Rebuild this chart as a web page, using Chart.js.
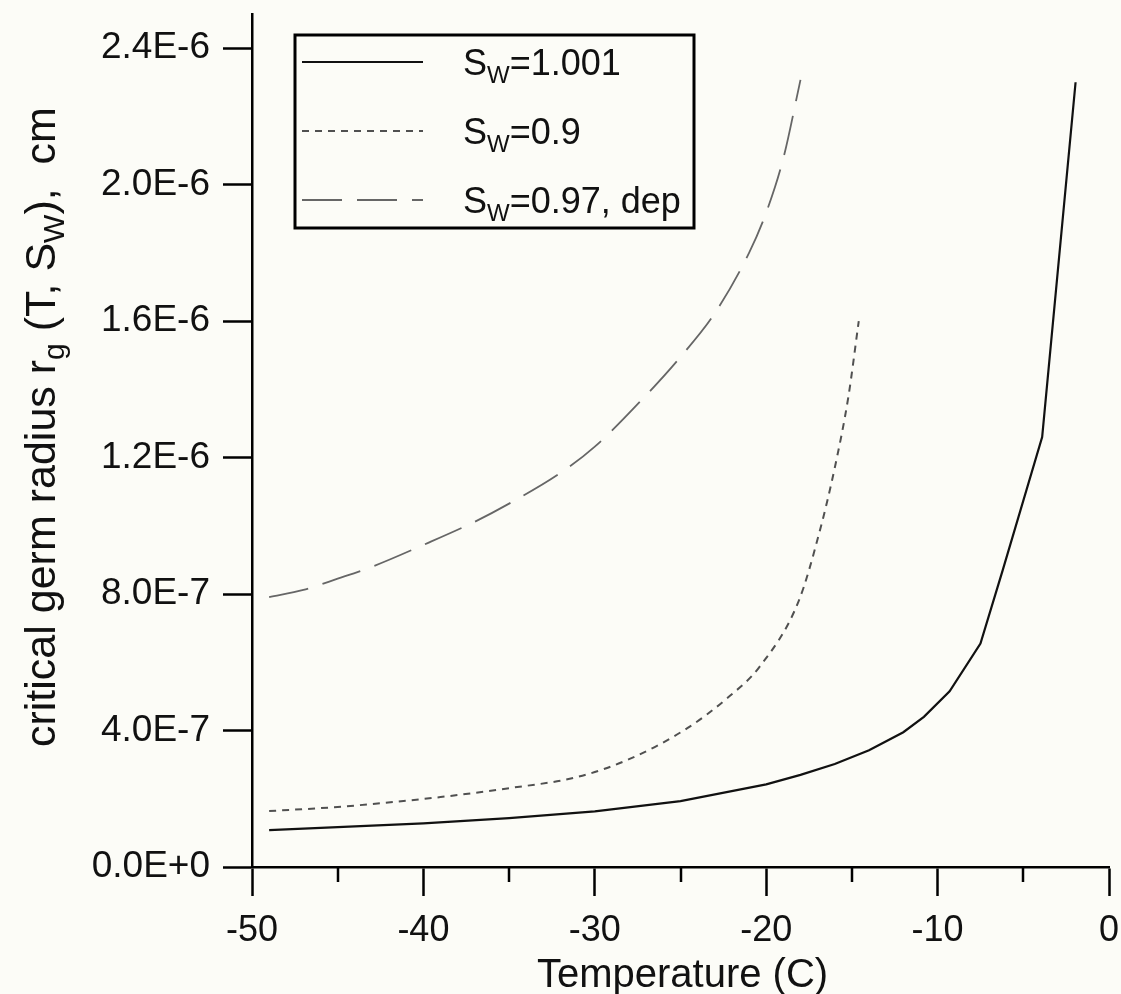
<!DOCTYPE html>
<html>
<head>
<meta charset="utf-8">
<script src="https://cdn.jsdelivr.net/npm/chart.js@4.4.0/dist/chart.umd.min.js"></script>
<style>
  html, body { margin: 0; padding: 0; background: #fcfcf7; }
  #wrap { width: 1121px; height: 994px; }
</style>
</head>
<body>
<div id="wrap"><canvas id="c" width="1121" height="994"></canvas></div>
<script>
// Critical germ radius vs temperature for three saturation ratios
const tempSw1001   = [-49, -45, -40, -35, -30, -25, -20, -18, -16, -14, -12, -10.8, -9.3, -7.5, -6.2, -3.9, -1.95];
const radiusSw1001 = [1.08e-7, 1.17e-7, 1.28e-7, 1.43e-7, 1.63e-7, 1.93e-7, 2.42e-7, 2.7e-7, 3.02e-7, 3.42e-7, 3.95e-7, 4.4e-7, 5.15e-7, 6.55e-7, 8.7e-7, 1.26e-6, 2.3e-6];

const tempSw09   = [-49, -45, -39, -35, -31, -28, -24.6, -22.2, -20.4, -18.1, -16.9, -16, -15.2, -14.6];
const radiusSw09 = [1.64e-7, 1.76e-7, 2.05e-7, 2.31e-7, 2.64e-7, 3.16e-7, 4.07e-7, 4.98e-7, 5.86e-7, 7.8e-7, 9.8e-7, 1.17e-6, 1.38e-6, 1.6e-6];

const tempSw097dep   = [-49, -47, -45, -43, -40, -37, -35, -32, -30, -27, -25, -23, -21, -20, -19, -18];
const radiusSw097dep = [7.91e-7, 8.12e-7, 8.45e-7, 8.8e-7, 9.44e-7, 1.012e-6, 1.065e-6, 1.155e-6, 1.232e-6, 1.383e-6, 1.495e-6, 1.623e-6, 1.8e-6, 1.918e-6, 2.077e-6, 2.307e-6];

// legend text parts: main letter, subscript, remainder
const legendMain = ['S', 'S', 'S'];
const legendSub  = ['W', 'W', 'W'];
const legendRest = ['=1.001', '=0.9', '=0.97, dep'];

const xTickValues  = [-50, -40, -30, -20, -10, 0];
const xTickLabels  = ['-50', '-40', '-30', '-20', '-10', '0'];
const xMinorValues = [-45, -35, -25, -15, -5];
const yTickValues  = [0, 4e-7, 8e-7, 1.2e-6, 1.6e-6, 2.0e-6, 2.4e-6];
const yTickLabels  = ['0.0E+0', '4.0E-7', '8.0E-7', '1.2E-6', '1.6E-6', '2.0E-6', '2.4E-6'];

const xTitle = 'Temperature (C)';
const yTitleParts = [
  { t: 'critical germ radius r' }, { t: 'g', sub: true },
  { t: ' (T, S' }, { t: 'W', sub: true }, { t: '),  cm' }
];

const FONT = '"Liberation Sans", Arial, Helvetica, sans-serif';
const BG = '#fcfcf7';

const pairs = (xs, ys) => xs.map((x, i) => ({ x: x, y: ys[i] }));

const bgPlugin = {
  id: 'bg',
  beforeDraw(chart) {
    const ctx = chart.ctx;
    ctx.save();
    ctx.fillStyle = BG;
    ctx.fillRect(0, 0, chart.width, chart.height);
    ctx.restore();
  }
};

// short minor ticks on the temperature axis
const minorTicks = {
  id: 'minorTicks',
  afterDraw(chart) {
    const xs = chart.scales.x, ctx = chart.ctx;
    ctx.save();
    ctx.strokeStyle = '#000';
    ctx.lineWidth = 2.5;
    xMinorValues.forEach(v => {
      const px = Math.round(xs.getPixelForValue(v));
      ctx.beginPath();
      ctx.moveTo(px, xs.top);
      ctx.lineTo(px, xs.top + 15);
      ctx.stroke();
    });
    ctx.restore();
  }
};

// axis titles (with subscripts)
const titles = {
  id: 'titles',
  afterDraw(chart) {
    const ctx = chart.ctx, xs = chart.scales.x;
    ctx.save();
    ctx.fillStyle = '#111';
    ctx.textBaseline = 'alphabetic';
    ctx.font = '40px ' + FONT;
    ctx.textAlign = 'center';
    ctx.fillText(xTitle, (xs.left + xs.right) / 2 + 2, 987);

    const size = 43, subSize = 30, subShift = 9;
    ctx.textAlign = 'left';
    ctx.translate(55, 747);
    ctx.rotate(-Math.PI / 2);
    let cx = 0;
    yTitleParts.forEach(p => {
      ctx.font = (p.sub ? subSize : size) + 'px ' + FONT;
      ctx.fillText(p.t, cx, p.sub ? subShift : 0);
      cx += ctx.measureText(p.t).width;
    });
    ctx.restore();
  }
};

// boxed legend with line samples and subscripted labels
const boxLegend = {
  id: 'boxLegend',
  afterDraw(chart) {
    const ctx = chart.ctx;
    const box = { l: 295, t: 35, r: 694, b: 228 };
    ctx.save();
    ctx.fillStyle = BG;
    ctx.fillRect(box.l, box.t, box.r - box.l, box.b - box.t);
    ctx.strokeStyle = '#000';
    ctx.lineWidth = 3;
    ctx.strokeRect(box.l, box.t, box.r - box.l, box.b - box.t);
    const rowY = [62, 131, 200];
    chart.data.datasets.forEach((ds, i) => {
      const y = rowY[i];
      ctx.save();
      ctx.strokeStyle = ds.borderColor;
      ctx.lineWidth = ds.borderWidth;
      ctx.setLineDash(ds.borderDash || []);
      ctx.beginPath();
      ctx.moveTo(302, y);
      ctx.lineTo(423, y);
      ctx.stroke();
      ctx.restore();

      ctx.fillStyle = '#111';
      ctx.textBaseline = 'alphabetic';
      ctx.textAlign = 'left';
      let x = 463;
      const base = y + 13;
      ctx.font = '36px ' + FONT;
      ctx.fillText(legendMain[i], x, base);
      x += ctx.measureText(legendMain[i]).width;
      ctx.font = '24px ' + FONT;
      ctx.fillText(legendSub[i], x, base + 8);
      x += ctx.measureText(legendSub[i]).width;
      ctx.font = '36px ' + FONT;
      ctx.fillText(legendRest[i], x, base);
    });
    ctx.restore();
  }
};

new Chart(document.getElementById('c'), {
  type: 'line',
  data: {
    datasets: [
      {
        label: 'S_W=1.001',
        data: pairs(tempSw1001, radiusSw1001),
        borderColor: '#111', borderWidth: 2.2, borderDash: [],
        pointRadius: 0, tension: 0, fill: false
      },
      {
        label: 'S_W=0.9',
        data: pairs(tempSw09, radiusSw09),
        borderColor: '#505050', borderWidth: 2, borderDash: [7, 6],
        pointRadius: 0, cubicInterpolationMode: 'monotone', fill: false
      },
      {
        label: 'S_W=0.97, dep',
        data: pairs(tempSw097dep, radiusSw097dep),
        borderColor: '#666', borderWidth: 1.8, borderDash: [40, 15],
        pointRadius: 0, cubicInterpolationMode: 'monotone', fill: false
      }
    ]
  },
  options: {
    responsive: false,
    animation: false,
    devicePixelRatio: 1,
    layout: { padding: { left: 0, right: 12, top: 14, bottom: 0 } },
    plugins: { legend: { display: false }, tooltip: { enabled: false } },
    scales: {
      x: {
        type: 'linear', min: -50, max: 0,
        afterBuildTicks: s => { s.ticks = xTickValues.map(v => ({ value: v })); },
        afterFit: s => { s.height = 127; s.paddingLeft = 0; s.paddingRight = 0; },
        border: { display: true, color: '#000', width: 2.5 },
        grid: { drawOnChartArea: false, drawTicks: true, tickLength: 29, tickColor: '#000', tickWidth: 2.5 },
        ticks: {
          autoSkip: false, maxRotation: 0, padding: 13, color: '#111',
          font: { family: FONT, size: 36 },
          callback: (v, i) => xTickLabels[i]
        }
      },
      y: {
        type: 'linear', min: 0, max: 2.5e-6,
        afterBuildTicks: s => { s.ticks = yTickValues.map(v => ({ value: v })); },
        afterFit: s => { s.width = 252; s.paddingTop = 0; s.paddingBottom = 0; },
        border: { display: true, color: '#000', width: 2.5 },
        grid: { drawOnChartArea: false, drawTicks: true, tickLength: 29, tickColor: '#000', tickWidth: 2.5 },
        ticks: {
          autoSkip: false, padding: 13, color: '#111',
          font: { family: FONT, size: 37 },
          callback: (v, i) => yTickLabels[i]
        }
      }
    }
  },
  plugins: [bgPlugin, minorTicks, titles, boxLegend]
});
</script>
</body>
</html>
